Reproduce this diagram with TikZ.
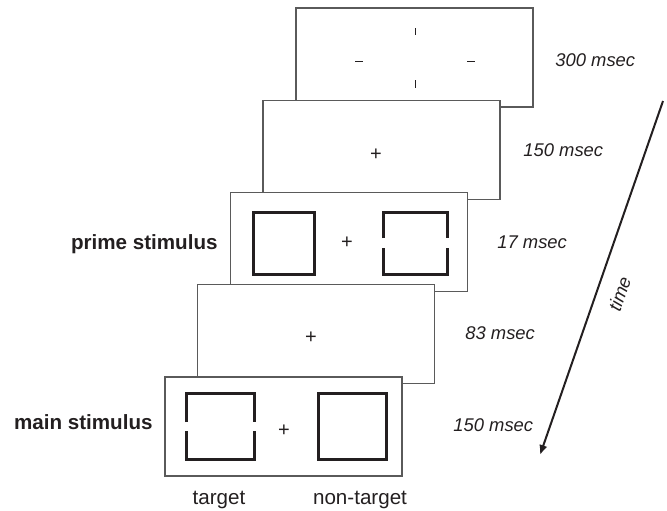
\documentclass[tikz,border=0pt]{standalone}
\usepackage{fontspec}
\setmainfont{Liberation Sans}
\usetikzlibrary{arrows.meta}
\definecolor{ink}{HTML}{231F20}
\definecolor{edge}{HTML}{5A5A5A}
\begin{document}
\begin{tikzpicture}[x=0.5pt,y=-0.5pt,
  screen/.style={draw=edge, line width=0.55pt, fill=white, inner sep=0pt, outer sep=0pt,
                 minimum width=118.5pt, minimum height=49.5pt},
  bar/.style={draw=ink, line width=1.5pt},
  tickline/.style={draw=ink, line width=0.5pt},
  fix/.style={text=ink, inner sep=0pt, font=\fontsize{10}{12}\selectfont},
  dur/.style={anchor=west, inner sep=0pt, text=ink, font=\fontsize{9.2}{11}\selectfont\itshape},
  cond/.style={anchor=east, inner sep=0pt, text=ink, font=\fontsize{10.3}{12}\selectfont\bfseries},
  stimlabel/.style={inner sep=0pt, text=ink, font=\fontsize{10.3}{12}\selectfont},
  timeline/.style={draw=ink, line width=1pt, -{Latex[length=5pt,width=4.2pt]}}]
\useasboundingbox (0,0) rectangle (667,510);

% stacked screens, each shifted down-left from the previous one
\node[screen] (s1) at (414.5,57.5) {};
\node[screen] (s2) at (381.5,150) {};
\node[screen] (s3) at (349,242) {};
\node[screen] (s4) at (316,334) {};
\node[screen] (s5) at (283.5,426.5) {};

% screen 1: four placeholder ticks
\draw[tickline] (415,28) -- (415,35);
\draw[tickline] (415,80) -- (415,88);
\draw[tickline] (355,61) -- (363,61);
\draw[tickline] (467,61) -- (475,61);

% screen 2: fixation
\node[fix] (p2) at (376,155) {+};

% screen 3: prime (full square, gapped square)
\draw[bar] (253,212) rectangle (314,274);
\node[fix] (p3) at (347,243) {+};
\draw[bar] (383,238) -- (383,212) -- (447,212) -- (447,238);
\draw[bar] (383,248) -- (383,274) -- (447,274) -- (447,248);

% screen 4: fixation
\node[fix] (p4) at (311,338) {+};

% screen 5: main stimulus (gapped square, full square)
\draw[bar] (186,422) -- (186,393) -- (254,393) -- (254,422);
\draw[bar] (186,431) -- (186,459) -- (254,459) -- (254,431);
\node[fix] (p5) at (284,431) {+};
\draw[bar] (318,393) rectangle (386,459);

% durations
\node[dur] (d1) at (555,60) {300 msec};
\node[dur] (d2) at (523,150) {150 msec};
\node[dur] (d3) at (497,242) {17 msec};
\node[dur] (d4) at (465,333) {83 msec};
\node[dur] (d5) at (453,425) {150 msec};

% stimulus labels
\node[cond] (l3) at (218,244) {prime stimulus};
\node[cond] (l5) at (153,422) {main stimulus};
\node[stimlabel] (t1) at (219,500) {target};
\node[stimlabel] (t2) at (360,500) {non-target};

% time axis
\coordinate (ta) at (663,101);
\coordinate (tb) at (540,455);
\draw[timeline] (ta) -- (tb);
\node[inner sep=0pt, text=ink, font=\fontsize{9.2}{11}\selectfont\itshape, rotate=70.9]
  (tl) at (619.5,294) {time};
\end{tikzpicture}
\end{document}
